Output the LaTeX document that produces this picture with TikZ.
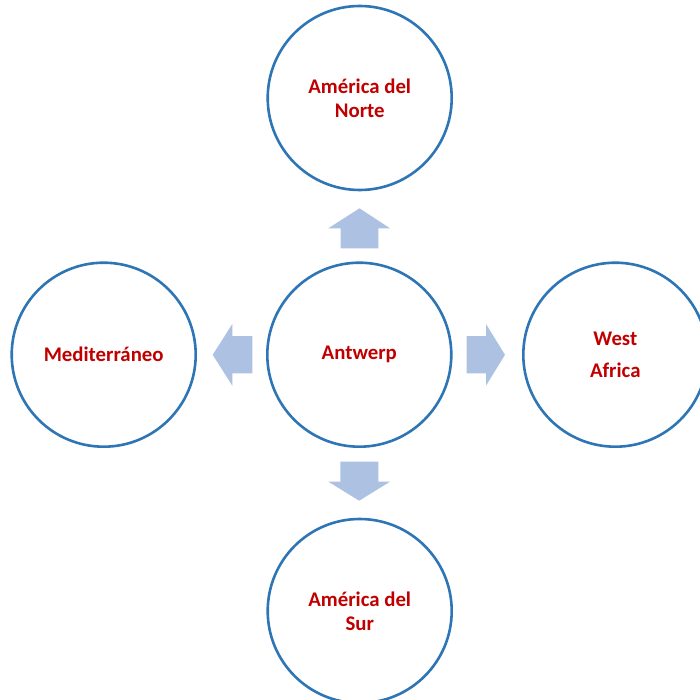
\documentclass[tikz,border=0pt]{standalone}
\usepackage{fontspec}
\setmainfont{Carlito}
\definecolor{ringblue}{HTML}{2E75B6}
\definecolor{arrowblue}{HTML}{ADC2E2}
\definecolor{labelred}{HTML}{C00000}
\begin{document}
\begin{tikzpicture}[x=1pt,y=-1pt,
  place/.style={circle,draw=ringblue,line width=2.6pt,minimum size=184pt,inner sep=0pt,
    align=center,text=labelred,font=\fontsize{20.8}{24}\selectfont\bfseries},
  blockarrow/.style={fill=arrowblue,draw=none}]
\useasboundingbox (0,0) rectangle (699,700);
\node[place] (north) at (359.7,98) {América del\\Norte};
\node[place] (center) at (359.3,354.7) {Antwerp};
\node[place] (west) at (103.7,354.7) {Mediterráneo};
\node[place,font=\fontsize{20.8}{31.5}\selectfont\bfseries] (east) at (615.3,354.7) {West\\Africa};
\node[place] (south) at (359.7,611) {América del\\Sur};
% up arrow
\fill[blockarrow] (340.7,248.3) -- (340.7,228.3) -- (328.3,228.3) -- (359.5,208.3) -- (390,228.3) -- (378.3,228.3) -- (378.3,248.3) -- cycle;
% down arrow
\fill[blockarrow] (340.3,461.7) -- (340.3,481.7) -- (328.3,481.7) -- (359.2,500.7) -- (390,481.7) -- (378.3,481.7) -- (378.3,461.7) -- cycle;
% left arrow
\fill[blockarrow] (252.3,336) -- (232.3,336) -- (232.3,324) -- (212.7,354.8) -- (232.3,385.7) -- (232.3,373.3) -- (252.3,373.3) -- cycle;
% right arrow
\fill[blockarrow] (466.7,336) -- (486,336) -- (486,324) -- (505,354.8) -- (486,385.7) -- (486,373.3) -- (466.7,373.3) -- cycle;
\end{tikzpicture}
\end{document}
